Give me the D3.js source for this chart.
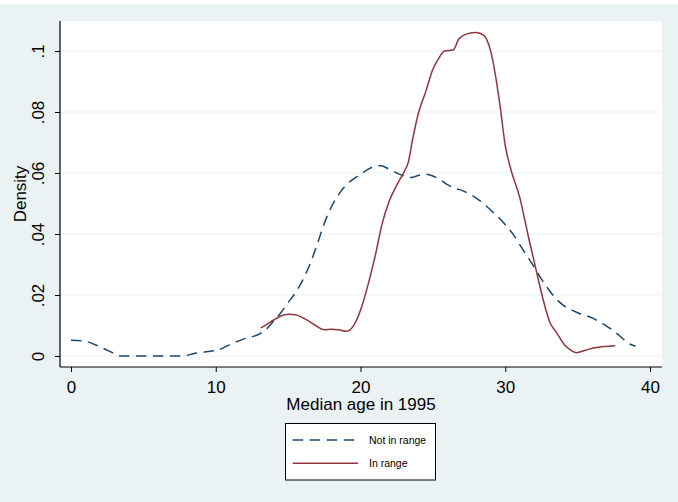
<!DOCTYPE html>
<html>
<head>
<meta charset="utf-8">
<script src="https://cdn.jsdelivr.net/npm/d3@7"></script>
<style>
  html, body { margin: 0; padding: 0; background: #ffffff; }
  svg { display: block; }
  text { font-family: "Liberation Sans", Arial, Helvetica, sans-serif; fill: #000; }
</style>
</head>
<body>
<svg id="chart" width="678" height="502"></svg>
<script>
// Kernel density of median age in 1995, split by group
const seriesNames = ["Not in range", "In range"];

// [age, density] for countries not in range
const notInRange = [
  [0, 0.0052], [1, 0.0048], [2, 0.0030], [3, 0.0008], [3.4, 0.0], [4, 0.0],
  [5, 0.0], [6, 0.0], [7, 0.0], [7.7, 0.0], [8.5, 0.0008], [9.5, 0.0015],
  [10.3, 0.0022], [11, 0.0038], [12, 0.0057], [13, 0.0072], [13.5, 0.0088],
  [14, 0.0115], [14.5, 0.0142], [15, 0.0175], [15.5, 0.0207], [16, 0.0248],
  [16.5, 0.0300], [17, 0.0365], [17.5, 0.0435], [18, 0.0490], [18.5, 0.0530],
  [19, 0.0560], [19.5, 0.0580], [20, 0.0595], [20.5, 0.0612], [21, 0.0622],
  [21.4, 0.0624], [22, 0.0612], [22.5, 0.0600], [23, 0.0590], [23.5, 0.0585],
  [24, 0.0592], [24.5, 0.0596], [25, 0.0590], [25.5, 0.0578], [26, 0.0562],
  [26.5, 0.0550], [27, 0.0543], [27.5, 0.0532], [28, 0.0518], [28.5, 0.0500],
  [29, 0.0478], [29.5, 0.0457], [30, 0.0430], [30.5, 0.0402], [31, 0.0365],
  [31.5, 0.0328], [32, 0.0292], [32.5, 0.0252], [33, 0.0218], [33.5, 0.0188],
  [34, 0.0167], [34.5, 0.0153], [35, 0.0142], [36, 0.0125], [36.5, 0.0112],
  [37, 0.0098], [37.5, 0.0082], [38, 0.0062], [38.5, 0.0042], [39, 0.0032]
];

// [age, density] for countries in range
const inRange = [
  [13.1, 0.0092], [13.5, 0.0103], [14.0, 0.0118], [14.5, 0.0131], [15.0, 0.0137],
  [15.5, 0.0135], [16.0, 0.0126], [16.5, 0.0112], [17.0, 0.0097], [17.5, 0.0086],
  [18.0, 0.0088], [18.5, 0.0086], [19.0, 0.0081], [19.5, 0.0098], [20.0, 0.0150],
  [20.5, 0.0230], [21.0, 0.0325], [21.5, 0.0435], [22.0, 0.0510], [22.5, 0.0560],
  [23.0, 0.0603], [23.3, 0.0635], [23.6, 0.0710], [24.0, 0.0796], [24.5, 0.0866],
  [25.0, 0.0940], [25.4, 0.0976], [25.8, 0.1000], [26.4, 0.1003], [26.8, 0.1040],
  [27.4, 0.1057], [28.0, 0.1061], [28.5, 0.1052], [29.0, 0.0998], [29.3, 0.0927],
  [29.65, 0.0817], [30.0, 0.0690], [30.35, 0.0618], [31.0, 0.0520], [31.6, 0.0391],
  [32.2, 0.0268], [32.6, 0.0188], [33.1, 0.0108], [33.5, 0.0080], [34.1, 0.0036],
  [34.5, 0.0020], [34.9, 0.0011], [35.6, 0.0020], [36.2, 0.0027], [36.8, 0.0031],
  [37.6, 0.0034]
];

const xTicks = [0, 10, 20, 30, 40];
const yTicks = [0, 0.02, 0.04, 0.06, 0.08, 0.1];
const yTickLabels = ["0", ".02", ".04", ".06", ".08", ".1"];

const colors = { notInRange: "#1a476f", inRange: "#90353b" };
const bg = "#eaf2f3";
const dashPattern = "10.5,6.5";

const svg = d3.select("#chart");
const W = 678, H = 502;

// graph region background
svg.append("rect").attr("x", 0).attr("y", 4).attr("width", W).attr("height", H - 4).attr("fill", bg);

// plot region
const plot = { left: 60, right: 662, top: 21, bottom: 367 };
svg.append("rect")
  .attr("x", plot.left).attr("y", plot.top)
  .attr("width", plot.right - plot.left).attr("height", plot.bottom - plot.top)
  .attr("fill", "#ffffff");

const x = d3.scaleLinear().domain([0, 40]).range([71, 650]);
const y = d3.scaleLinear().domain([0, 0.1]).range([356, 51]);

// horizontal grid lines
svg.append("g").selectAll("line").data(yTicks).join("line")
  .attr("x1", plot.left).attr("x2", plot.right)
  .attr("y1", d => y(d)).attr("y2", d => y(d))
  .attr("stroke", bg).attr("stroke-width", 1.2);

// density curves
const line = d3.line().x(d => x(d[0])).y(d => y(d[1])).curve(d3.curveMonotoneX);

svg.append("path").datum(notInRange)
  .attr("d", line).attr("fill", "none")
  .attr("stroke", colors.notInRange).attr("stroke-width", 1.5)
  .attr("stroke-dasharray", dashPattern);

svg.append("path").datum(inRange)
  .attr("d", line).attr("fill", "none")
  .attr("stroke", colors.inRange).attr("stroke-width", 1.5);

// x axis
const xAxis = svg.append("g")
  .attr("transform", `translate(0,${plot.bottom})`)
  .call(d3.axisBottom(x).tickValues(xTicks).tickSize(5).tickFormat(d3.format("d")));
xAxis.select(".domain").remove();
xAxis.selectAll(".tick line").attr("stroke", "#000");
xAxis.selectAll(".tick text")
  .attr("y", 13.5).attr("font-size", 17)
  .style("font-family", "'Liberation Sans', Arial, sans-serif");
svg.append("line")
  .attr("x1", plot.left).attr("x2", plot.right)
  .attr("y1", plot.bottom).attr("y2", plot.bottom)
  .attr("stroke", "#000").attr("stroke-width", 1.2);

// y axis
const yAxis = svg.append("g")
  .attr("transform", `translate(${plot.left},0)`)
  .call(d3.axisLeft(y).tickValues(yTicks).tickSize(5)
    .tickFormat((d, i) => yTickLabels[i]));
yAxis.select(".domain").remove();
yAxis.selectAll(".tick line").attr("stroke", "#000");
yAxis.selectAll(".tick text")
  .attr("transform", "rotate(-90)")
  .attr("x", 0).attr("y", -16).attr("dy", null)
  .attr("text-anchor", "middle").attr("font-size", 17)
  .style("font-family", "'Liberation Sans', Arial, sans-serif");
svg.append("line")
  .attr("x1", plot.left).attr("x2", plot.left)
  .attr("y1", plot.top).attr("y2", plot.bottom)
  .attr("stroke", "#000").attr("stroke-width", 1.2);

// axis titles
svg.append("text")
  .attr("x", (plot.left + plot.right) / 2).attr("y", 410)
  .attr("text-anchor", "middle").attr("font-size", 17)
  .text("Median age in 1995");

svg.append("text")
  .attr("transform", `translate(25.5,${(plot.top + plot.bottom) / 2}) rotate(-90)`)
  .attr("text-anchor", "middle").attr("font-size", 17)
  .text("Density");

// legend
const legend = svg.append("g");
legend.append("rect")
  .attr("x", 285.5).attr("y", 423.5).attr("width", 150).attr("height", 56.5)
  .attr("fill", "#ffffff").attr("stroke", "#000").attr("stroke-width", 1);

const legendRows = [
  { name: seriesNames[0], color: colors.notInRange, dash: dashPattern, y: 440 },
  { name: seriesNames[1], color: colors.inRange, dash: null, y: 463.3 }
];
legendRows.forEach(r => {
  legend.append("line")
    .attr("x1", 292.7).attr("x2", 358)
    .attr("y1", r.y).attr("y2", r.y)
    .attr("stroke", r.color).attr("stroke-width", 1.5)
    .attr("stroke-dasharray", r.dash);
  legend.append("text")
    .attr("x", 369).attr("y", r.y + 4)
    .attr("font-size", 10.5)
    .text(r.name);
});
</script>
</body>
</html>
